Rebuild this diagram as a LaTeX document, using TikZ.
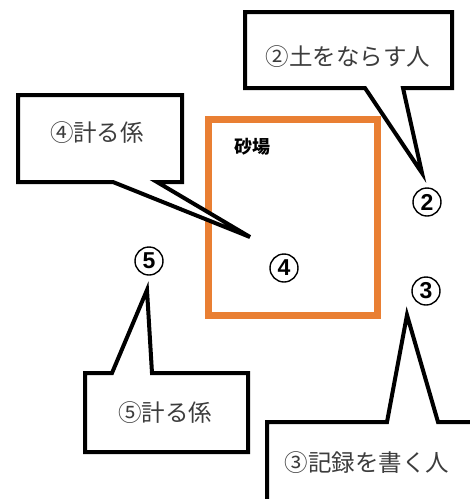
\documentclass[tikz,border=0pt]{standalone}
\usepackage{fontspec}
\newfontfamily\jp{Noto Sans CJK JP}
\newfontfamily\numf{Liberation Sans}
\definecolor{sandorange}{HTML}{E97F33}
\definecolor{txtgray}{HTML}{3C3C3C}
\begin{document}
\begin{tikzpicture}[x=1pt,y=-1pt,
  callout/.style={draw=black,fill=white,line width=4pt,line join=miter},
  calltext/.style={font=\jp\fontsize{23.5}{27}\selectfont,text=txtgray,inner sep=0pt},
  circnum/.style={circle,draw=black,line width=1.4pt,minimum size=28pt,inner sep=0pt,
    font=\numf\bfseries\fontsize{23}{23}\selectfont},
  sandbox/.style={draw=sandorange,line width=7pt}]
\useasboundingbox (0,0) rectangle (470,499);
\clip (0,0) rectangle (470,499);
\fill[white] (0,0) rectangle (470,499);
% sand pit
\draw[sandbox] (208,119) rectangle (377,315);
\node[font=\jp\bfseries\fontsize{18}{20}\selectfont,inner sep=0pt] (sand) at (252,147) {砂場};
% numbered positions
\node[circnum] (n2) at (427,202) {2};
\node[circnum] (n3) at (426,291) {3};
\node[circnum] (n4) at (284,268) {4};
\node[circnum] (n5) at (149,261) {5};
% tips of callouts
\coordinate (t2) at (422,173);
\coordinate (t4) at (250,237);
\coordinate (t5) at (147,290);
\coordinate (t3) at (407,315);
% callout 2
\draw[callout] (245,12) -- (452,12) -- (452,88) -- (403,88) -- (t2) -- (365,88) -- (245,88) -- cycle;
\node[calltext] (c2) at (348,57) {②土をならす人};
% callout 4
\draw[callout] (18,95) -- (182,95) -- (182,182) -- (157,182) -- (t4) -- (113,182) -- (18,182) -- cycle;
\node[calltext] (c4) at (97,133) {④計る係};
% callout 5
\draw[callout] (85,373) -- (112,373) -- (t5) -- (152,373) -- (248,373) -- (248,452) -- (85,452) -- cycle;
\node[calltext] (c5) at (165,413) {⑤計る係};
% callout 3
\draw[callout] (267,422) -- (387,422) -- (t3) -- (438,422) -- (490,422) -- (490,520) -- (267,520) -- cycle;
\node[calltext] (c3) at (367,463) {③記録を書く人};
\end{tikzpicture}
\end{document}
